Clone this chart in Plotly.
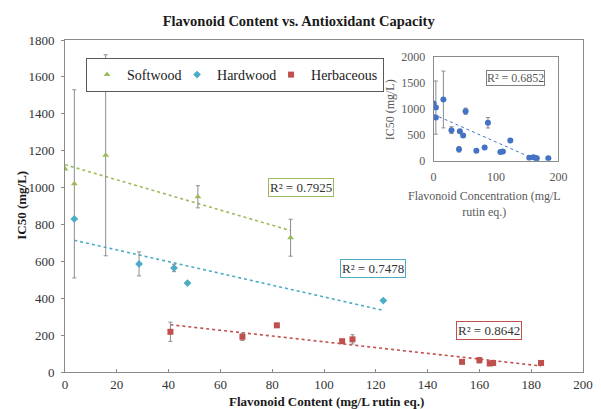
import numpy as np
import plotly.graph_objects as go

# Flavonoid content (mg/L rutin eq.) and IC50 (mg/L) by wood / plant type
soft_x = [0.0, 3.6, 15.7, 51.3, 87.1]
soft_y = [1100, 1020, 1175, 950, 728]
soft_err = [0, 510, 545, 60, 100]

hard_x = [3.6, 28.6, 42.1, 47.3, 122.9]
hard_y = [830, 586, 564, 482, 387]
hard_err = [0, 65, 20, 0, 0]

herb_x = [40.7, 68.5, 81.8, 107.0, 111.0, 153.3, 160.0, 164.0, 165.3, 183.8]
herb_y = [218, 191, 253, 167, 177, 55, 64, 46, 49, 49]
herb_err = [52, 20, 0, 0, 25, 0, 15, 0, 0, 0]

r2_labels = {"Softwood": "R² = 0.7925", "Hardwood": "R² = 0.7478",
             "Herbaceous": "R² = 0.8642", "All": "R² = 0.6852"}

x_ticks = list(range(0, 201, 20))
y_ticks = list(range(0, 1801, 200))
inset_x_ticks = [0, 100, 200]
inset_y_ticks = [0, 500, 1000, 1500, 2000]

SERIF = "Liberation Serif"
GREEN, AQUA, RED, BLUE = "#9bbb59", "#4bacc6", "#c0504d", "#4472c4"
ERR = "#8c8c8c"
AXIS = "#8a8a8a"

# plot-area geometry in pixels (used to place free text in paper coordinates)
L, R, T, B, W, H = 65, 9, 40, 37, 601, 409
PW, PH = W - L - R, H - T - B


def px(xpix):
    return (xpix - L) / PW


def py(ypix):
    return (H - B - ypix) / PH


def linear_fit(xs, ys):
    slope, intercept = np.polyfit(xs, ys, 1)
    xx = np.array([min(xs), max(xs)])
    return xx, slope * xx + intercept


def error_trace(xs, ys, errs, **axes):
    # whiskers only; the visible markers are drawn by a separate trace on top
    return go.Scatter(x=xs, y=ys, mode="markers", showlegend=False, hoverinfo="skip",
                      marker=dict(size=1, opacity=0),
                      error_y=dict(type="data", array=errs, visible=True,
                                   color=ERR, thickness=1, width=2), **axes)


fig = go.Figure()

# name, x, y, errors, colour, symbol, marker size, legend entry width
series = [
    ("Softwood", soft_x, soft_y, soft_err, GREEN, "triangle-up", 6, 45),
    ("Hardwood", hard_x, hard_y, hard_err, AQUA, "diamond", 6, 49),
    ("Herbaceous", herb_x, herb_y, herb_err, RED, "square", 6, None),
]

for name, xs, ys, errs, color, symbol, size, lw in series:
    tx, ty = linear_fit(xs, ys)
    fig.add_trace(go.Scatter(x=tx, y=ty, mode="lines", showlegend=False,
                             line=dict(color=color, width=1.6, dash="dot"),
                             hoverinfo="skip"))
for name, xs, ys, errs, color, symbol, size, lw in series:
    fig.add_trace(error_trace(xs, ys, errs))
for name, xs, ys, errs, color, symbol, size, lw in series:
    fig.add_trace(go.Scatter(x=xs, y=ys, mode="markers", name=name, legendwidth=lw,
                             marker=dict(color=color, symbol=symbol, size=size)))

# Inset: all samples pooled
all_x = soft_x + hard_x + herb_x
all_y = soft_y + hard_y + herb_y
all_err = soft_err + hard_err + herb_err
ix, iy = linear_fit(all_x, all_y)
fig.add_trace(go.Scatter(x=ix, y=iy, mode="lines", showlegend=False,
                         line=dict(color=BLUE, width=1, dash="dot"),
                         xaxis="x2", yaxis="y2", hoverinfo="skip"))
fig.add_trace(error_trace(all_x, all_y, all_err, xaxis="x2", yaxis="y2"))
fig.add_trace(go.Scatter(x=all_x, y=all_y, mode="markers", showlegend=False,
                         marker=dict(color=BLUE, size=6), xaxis="x2", yaxis="y2"))

tick_font = dict(family=SERIF, size=13, color="#333333")
small_font = dict(family=SERIF, size=12, color="#595959")

fig.update_layout(
    width=W, height=H,
    margin=dict(l=L, r=R, t=T, b=B),
    font=dict(family=SERIF, size=13, color="#333333"),
    paper_bgcolor="white", plot_bgcolor="white",
    title=dict(text="<b>Flavonoid Content vs. Antioxidant Capacity</b>",
               x=0.497, xanchor="center", y=1 - 21 / H, yanchor="middle",
               yref="container", font=dict(family=SERIF, size=14.5, color="#1a1a1a")),
    xaxis=dict(range=[0, 200], tickvals=x_ticks, showgrid=False, zeroline=False,
               showline=True, linecolor=AXIS, linewidth=1, mirror=True,
               ticks="inside", ticklen=3, tickcolor=AXIS, tickfont=tick_font),
    yaxis=dict(range=[0, 1800], tickvals=y_ticks, showgrid=False, zeroline=False,
               showline=True, linecolor=AXIS, linewidth=1, mirror=True,
               ticks="outside", ticklen=3, tickcolor=AXIS, tickfont=tick_font,
               ticklabelstandoff=4),
    xaxis2=dict(domain=[px(440), px(567)], anchor="y2", range=[0, 200],
                tickvals=inset_x_ticks, showgrid=False, zeroline=False,
                showline=True, linecolor=AXIS, linewidth=1, mirror=True,
                ticks="", tickfont=small_font, ticklabelstandoff=5),
    yaxis2=dict(domain=[py(160.7), py(56.5)], anchor="x2", range=[0, 2000],
                tickvals=inset_y_ticks, showgrid=False, zeroline=False,
                showline=True, linecolor=AXIS, linewidth=1, mirror=True,
                ticks="", tickfont=small_font, ticklabelstandoff=5),
    legend=dict(orientation="h", x=px(238), y=py(58), xanchor="center", yanchor="top",
                bordercolor="#595959", borderwidth=1, bgcolor="white",
                font=dict(family=SERIF, size=14, color="#1a1a1a"),
                itemwidth=30, tracegroupgap=0),
    showlegend=True,
)

base = dict(xref="paper", yref="paper", showarrow=False,
            xanchor="center", yanchor="middle")
annotations = [
    # axis titles
    dict(base, text="<b>Flavonoid Content (mg/L rutin eq.)</b>",
         x=px(331), y=py(401), font=dict(family=SERIF, size=13, color="#1a1a1a")),
    dict(base, text="<b>IC50 (mg/L)</b>", x=px(20), y=py(205), textangle=-90,
         font=dict(family=SERIF, size=13, color="#1a1a1a")),
    dict(base, text="Flavonoid Concentration (mg/L<br>rutin eq.)",
         x=px(492), y=py(204), font=small_font),
    dict(base, text="IC50 (mg/L)", x=px(396), y=py(110), textangle=-90,
         font=small_font),
]

r2_boxes = [
    ("Softwood", 305.5, 187.5, GREEN),
    ("Hardwood", 378, 268.7, AQUA),
    ("Herbaceous", 496, 330.5, RED),
]
for key, bx, by, color in r2_boxes:
    annotations.append(dict(
        base, text=r2_labels[key], x=px(bx), y=py(by),
        bordercolor=color, borderwidth=1, borderpad=1, bgcolor="white",
        font=dict(family=SERIF, size=13, color="#333333")))
annotations.append(dict(
    base, text=r2_labels["All"], x=px(523.7), y=py(78.3),
    bordercolor="#7f7f7f", borderwidth=1, borderpad=0, bgcolor="white",
    font=dict(family=SERIF, size=12, color="#595959")))

fig.update_layout(annotations=annotations)
fig.write_html("out.html")
